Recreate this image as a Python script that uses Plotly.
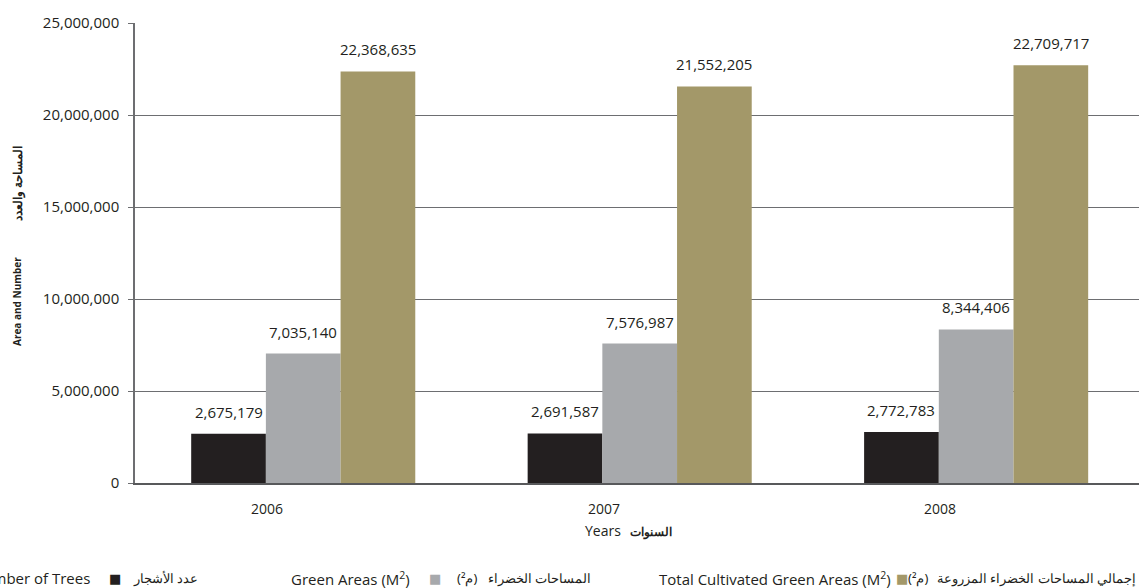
import plotly.graph_objects as go

years = ["2006", "2007", "2008"]
trees = [2675179, 2691587, 2772783]
green_areas = [7035140, 7576987, 8344406]
total_cultivated = [22368635, 21552205, 22709717]

series = [
    ("Number of Trees", trees, "#231f20"),
    ("Green Areas (M²)", green_areas, "#a7a9ac"),
    ("Total Cultivated Green Areas (M²)", total_cultivated, "#a39869"),
]

FONT = "Open Sans"
AR_FONT = "Noto Sans"
TXT = "#231f20"

# plot area in pixels
W, H = 1139, 588
L, R, T, B = 135, 0, 23, 105
PW = W - L - R
PH = H - T - B


def px(x):
    return (x - L) / PW


def py(y):
    return (H - B - y) / PH


fig = go.Figure()
for name, vals, color in series:
    fig.add_trace(go.Bar(x=years, y=vals, name=name, marker_color=color,
                         marker_line_width=0))

# value labels above each bar
bar_w = 336.5 * (1 - 0.334) / 3
for i, (name, vals, color) in enumerate(series):
    for j, v in enumerate(vals):
        fig.add_annotation(x=j, y=v, xref="x", yref="y", text=f"{v:,}",
                           showarrow=False, xshift=(i - 1) * bar_w, yshift=22,
                           yanchor="middle",
                           font=dict(family=FONT, size=15, color=TXT))

# year labels (sit under the first/second bar boundary)
for j, yr in enumerate(years):
    fig.add_annotation(x=j, y=0, xref="x", yref="y", text=yr, showarrow=False,
                       xshift=-36, yshift=-25, yanchor="middle",
                       font=dict(family=FONT, size=14, color=TXT))

# x axis title
fig.add_annotation(x=px(623), y=py(530), xref="paper", yref="paper", text="Years",
                   xanchor="right", yanchor="middle", showarrow=False,
                   font=dict(family=FONT, size=14, color=TXT))
fig.add_annotation(x=px(628), y=py(531), xref="paper", yref="paper", text="<b>السنوات</b>",
                   xanchor="left", yanchor="middle", showarrow=False,
                   font=dict(family=AR_FONT, size=12, color=TXT))

# y axis title
fig.add_annotation(x=px(17), y=py(302), xref="paper", yref="paper",
                   text="<b>Area and Number</b>", textangle=-90, showarrow=False,
                   xanchor="center", yanchor="middle",
                   font=dict(family=FONT, size=10, color=TXT))
fig.add_annotation(x=px(17), y=py(184), xref="paper", yref="paper",
                   text="<b>المساحة والعدد</b>", textangle=-90, showarrow=False,
                   xanchor="center", yanchor="middle",
                   font=dict(family=AR_FONT, size=12, color=TXT))

# legend, built by hand: english text, swatch, arabic text
ly = py(578)
legend_items = [
    (92, "Number of Trees", 115, "#231f20", [(200, "right", "عدد الأشجار")]),
    (412, "Green Areas (M<sup>2</sup>)", 435, "#a7a9ac",
     [(479, "right", "(م²)"), (593, "right", "المساحات الخضراء")]),
    (893, "Total Cultivated Green Areas (M<sup>2</sup>)", 902, "#a39869",
     [(930, "right", "(م²)"), (935, "left", "إجمالي المساحات الخضراء المزروعة")]),
]
for x_en, en, x_sq, col, ar_parts in legend_items:
    fig.add_annotation(x=px(x_en), y=ly, xref="paper", yref="paper", text=en,
                       xanchor="right", yanchor="middle", showarrow=False,
                       font=dict(family=FONT, size=15, color=TXT))
    fig.add_annotation(x=px(x_sq), y=ly, xref="paper", yref="paper", text="■",
                       xanchor="center", yanchor="middle", showarrow=False,
                       font=dict(family="DejaVu Sans", size=13, color=col))
    for x_ar, anchor, ar in ar_parts:
        fig.add_annotation(x=px(x_ar), y=ly, xref="paper", yref="paper", text=ar,
                           xanchor=anchor, yanchor="middle", showarrow=False,
                           font=dict(family=AR_FONT, size=13, color=TXT))

fig.update_layout(
    width=W, height=H,
    margin=dict(l=L, r=R, t=T, b=B),
    barmode="group", bargap=0.334, bargroupgap=0,
    plot_bgcolor="white", paper_bgcolor="white",
    showlegend=False,
    font=dict(family=FONT, size=14, color=TXT),
)
fig.update_xaxes(type="category", range=[-0.5, 2.484], showticklabels=False,
                 ticks="", showline=True, linecolor="#58595b", linewidth=1.5,
                 showgrid=False, zeroline=False)
fig.update_yaxes(range=[0, 25000000], tickvals=[0, 5e6, 10e6, 15e6, 20e6, 25e6],
                 tickformat=",d", showgrid=True, gridcolor="#6d6e71", gridwidth=1.2,
                 showline=True, linecolor="#6d6e71", linewidth=1.5,
                 ticks="outside", ticklen=5, tickcolor="#6d6e71",
                 ticklabelstandoff=6, zeroline=False,
                 tickfont=dict(family=FONT, size=15, color=TXT))

# the page's default body margin would shift the figure by 8px
fig.write_html("out.html", config={"displayModeBar": False},
               post_script="document.body.style.margin = '0';")
